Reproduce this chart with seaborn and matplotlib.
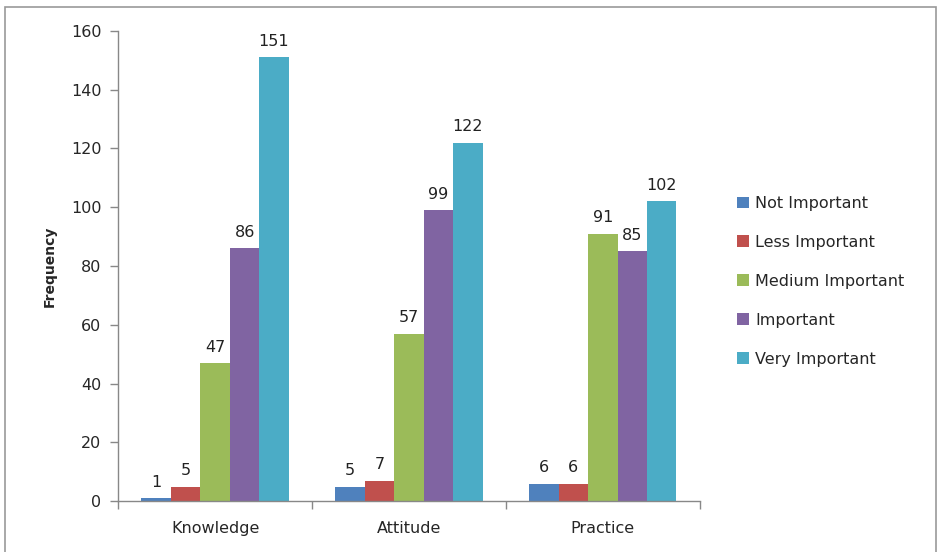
import pandas as pd
import numpy as np
import matplotlib.pyplot as plt
import seaborn as sns
from matplotlib.patches import Rectangle

categories = ["Knowledge", "Attitude", "Practice"]
levels = ["Not Important", "Less Important", "Medium Important", "Important", "Very Important"]
not_important = [1, 5, 6]
less_important = [5, 7, 6]
medium_important = [47, 57, 91]
important = [86, 99, 85]
very_important = [151, 122, 102]

colors = ["#4F81BD", "#C0504D", "#9BBB59", "#8064A2", "#4BACC6"]

series = [not_important, less_important, medium_important, important, very_important]
rows = []
for lvl, vals in zip(levels, series):
    for cat, v in zip(categories, vals):
        rows.append({"category": cat, "level": lvl, "freq": v})
df = pd.DataFrame(rows)

sns.set_style("white")
plt.rcParams['font.family'] = ['DejaVu Sans']

fig = plt.figure(figsize=(9.38, 5.52), dpi=100)
ax = fig.add_axes([0.126, 0.092, 0.62, 0.852])

sns.barplot(data=df, x="category", y="freq", hue="level", hue_order=levels,
            order=categories, palette=colors, width=0.76, gap=0, saturation=1,
            linewidth=0, edgecolor="none", ax=ax)

for cont in ax.containers:
    ax.bar_label(cont, padding=6, fontsize=11.5, color="#222222")

ax.set_ylim(0, 160)
ax.set_yticks(np.arange(0, 161, 20))
ax.set_xlim(-0.5, 2.5)
ax.set_xticks([-0.5, 0.5, 1.5, 2.5], minor=False)
ax.set_xticklabels([])
ax.set_xticks([0, 1, 2], minor=True)
ax.set_xticklabels(categories, minor=True)
ax.tick_params(axis="x", which="minor", bottom=True, length=0, pad=14, labelsize=11.5)
ax.tick_params(axis="x", which="major", bottom=True, length=6, width=1, color="#888888", direction="out")
ax.tick_params(axis="y", left=True, length=6, width=1, color="#888888", direction="out",
               labelsize=11.5, pad=6)
ax.set_xlabel("")
ax.set_ylabel("Frequency", fontsize=10, fontweight="bold", labelpad=10)

for s in ["top", "right"]:
    ax.spines[s].set_visible(False)
for s in ["left", "bottom"]:
    ax.spines[s].set_color("#888888")
    ax.spines[s].set_linewidth(1)

ax.legend(loc="center left", bbox_to_anchor=(1.04, 0.468), frameon=False, fontsize=11.5,
          handlelength=0.7, handleheight=0.7, handletextpad=0.4, labelspacing=1.5)

fig.add_artist(Rectangle((0.005, -0.01), 0.993, 0.997, transform=fig.transFigure,
                         fill=False, edgecolor="#999999", linewidth=1.2))

fig.savefig("out.png", dpi=100)
